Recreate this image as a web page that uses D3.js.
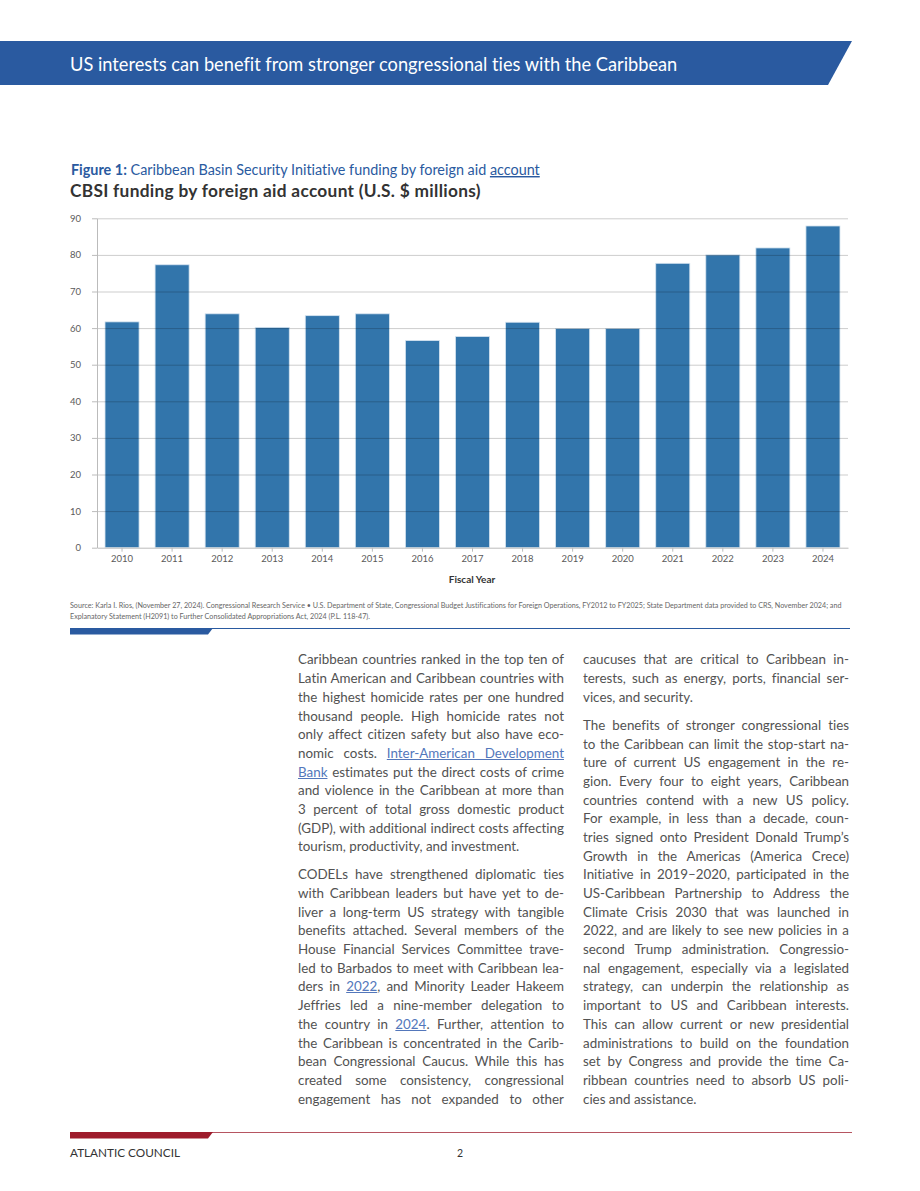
<!DOCTYPE html>
<html>
<head>
<meta charset="utf-8">
<script src="https://cdn.jsdelivr.net/npm/d3@7"></script>
<style>
    body { margin: 0; background: #fff; }
    #page { position: relative; width: 920px; height: 1191px; overflow: hidden; font-family: Lato, "Open Sans", sans-serif; font-variant-ligatures: none; }
    #page svg { position: absolute; left: 0; top: 0; }
    .col { position: absolute; width: 266px; color: #525252; }
    .col .para { margin-bottom: 9.3px; }
    .ln { white-space: nowrap; text-align: justify; text-align-last: justify; height: 18.7px; line-height: 18.7px; }
    .ln.last { text-align-last: left; }
    .col a { color: #5377bb; text-decoration: underline; text-decoration-thickness: 1px; }
</style>
</head>
<body>
<div id="page"></div>
<script>
// chart data
const years = ['2010', '2011', '2012', '2013', '2014', '2015', '2016', '2017',
    '2018', '2019', '2020', '2021', '2022', '2023', '2024'];
const funding = [61.7, 77.3, 63.9, 60.2, 63.4, 63.9, 56.6, 57.7, 61.6, 59.9, 59.9, 77.7, 80.0, 81.9, 87.9];
const yTicks = [0, 10, 20, 30, 40, 50, 60, 70, 80, 90];

const headerText = 'US interests can benefit from stronger congressional ties with the Caribbean';
const figureLabel = 'Figure 1:';
const figureText = ' Caribbean Basin Security Initiative funding by foreign aid ';
const figureLink = 'account';
const chartTitle = 'CBSI funding by foreign aid account (U.S. $ millions)';
const xTitle = 'Fiscal Year';
const sourceLines = [
    'Source: Karla I. Rios, (November 27, 2024). Congressional Research Service • U.S. Department of State, Congressional Budget Justifications for Foreign Operations, FY2012 to FY2025; State Department data provided to CRS, November 2024; and',
    'Explanatory Statement (H2091) to Further Consolidated Appropriations Act, 2024 (P.L. 118-47).'
];
const footerText = 'ATLANTIC COUNCIL';
const pageNumber = '2';

// body text, one entry per printed line, [..] = link
const column1 = [
    [
        'Caribbean countries ranked in the top ten of',
        'Latin American and Caribbean countries with',
        'the highest homicide rates per one hundred',
        'thousand people. High homicide rates not',
        'only affect citizen safety but also have eco-',
        'nomic costs. [Inter-American Development]',
        '[Bank] estimates put the direct costs of crime',
        'and violence in the Caribbean at more than',
        '3 percent of total gross domestic product',
        '(GDP), with additional indirect costs affecting',
        'tourism, productivity, and investment.'
    ],
    [
        'CODELs have strengthened diplomatic ties',
        'with Caribbean leaders but have yet to de-',
        'liver a long-term US strategy with tangible',
        'benefits attached. Several members of the',
        'House Financial Services Committee trave-',
        'led to Barbados to meet with Caribbean lea-',
        'ders in [2022], and Minority Leader Hakeem',
        'Jeffries led a nine-member delegation to',
        'the country in [2024]. Further, attention to',
        'the Caribbean is concentrated in the Carib-',
        'bean Congressional Caucus. While this has',
        'created some consistency, congressional',
        'engagement has not expanded to other'
    ]
];
const column1Continues = true;
const column2 = [
    [
        'caucuses that are critical to Caribbean in-',
        'terests, such as energy, ports, financial ser-',
        'vices, and security.'
    ],
    [
        'The benefits of stronger congressional ties',
        'to the Caribbean can limit the stop-start na-',
        'ture of current US engagement in the re-',
        'gion. Every four to eight years, Caribbean',
        'countries contend with a new US policy.',
        'For example, in less than a decade, coun-',
        'tries signed onto President Donald Trump’s',
        'Growth in the Americas (America Crece)',
        'Initiative in 2019–2020, participated in the',
        'US-Caribbean Partnership to Address the',
        'Climate Crisis 2030 that was launched in',
        '2022, and are likely to see new policies in a',
        'second Trump administration. Congressio-',
        'nal engagement, especially via a legislated',
        'strategy, can underpin the relationship as',
        'important to US and Caribbean interests.',
        'This can allow current or new presidential',
        'administrations to build on the foundation',
        'set by Congress and provide the time Ca-',
        'ribbean countries need to absorb US poli-',
        'cies and assistance.'
    ]
];

const blue = '#2a5aa0';
const page = d3.select('#page');
const svg = page.append('svg').attr('width', 920).attr('height', 1191);

// shrink/grow a text so it spans a given width
function fitWidth(sel, w) {
    const len = sel.node().getComputedTextLength();
    const fs = parseFloat(sel.attr('font-size'));
    sel.attr('font-size', fs * w / len);
    return fs * w / len;
}

// header band
svg.append('path')
    .attr('d', 'M0,41 L852,41 L828,85 L0,85 Z')
    .attr('fill', blue);
const ht = svg.append('text')
    .attr('x', 70).attr('y', 70.5)
    .attr('font-size', 17).attr('fill', '#fff')
    .text(headerText);
fitWidth(ht, 608);

// figure caption
const fig = svg.append('text')
    .attr('x', 71).attr('y', 175)
    .attr('font-size', 13).attr('fill', blue);
fig.append('tspan').attr('font-weight', 700).text(figureLabel);
fig.append('tspan').text(figureText);
fig.append('tspan').attr('text-decoration', 'underline').text(figureLink);
fitWidth(fig, 469);

const title = svg.append('text')
    .attr('x', 70).attr('y', 197)
    .attr('font-size', 15.5).attr('font-weight', 700).attr('fill', '#333')
    .attr('letter-spacing', 0.3)
    .text(chartTitle);
fitWidth(title, 413);

// chart
const x = d3.scaleBand().domain(years).range([97, 848]).paddingInner(0.32).paddingOuter(0.16);
const y = d3.scaleLinear().domain([0, 90]).range([547.7, 218.3]);

svg.append('g')
    .selectAll('rect')
    .data(years)
    .join('rect')
    .attr('x', d => x(d))
    .attr('width', x.bandwidth())
    .attr('y', (d, i) => y(funding[i]))
    .attr('height', (d, i) => y(0) - y(funding[i]))
    .attr('fill', '#1c66a2')
    .attr('fill-opacity', 0.9)
    .attr('stroke', '#d6e4f0')
    .attr('stroke-width', 0.8);

// gridlines over the bars so they show through
const grid = svg.append('g')
    .attr('transform', 'translate(97,0)')
    .call(d3.axisLeft(y).tickValues(yTicks.slice(1)).tickSize(-751).tickFormat(''));
grid.select('.domain').remove();
grid.selectAll('line').attr('stroke', '#000').attr('stroke-opacity', 0.2);

const yAxis = svg.append('g')
    .attr('transform', 'translate(97,0)')
    .call(d3.axisLeft(y).tickValues(yTicks).tickSizeInner(5).tickSizeOuter(0).tickPadding(11));
yAxis.select('.domain').attr('stroke', '#bbb');
yAxis.selectAll('line').attr('stroke', '#bbb');
yAxis.selectAll('text')
    .attr('font-family', 'Lato, sans-serif').attr('font-size', 9.5).attr('fill', '#5a5a5a');

const xAxis = svg.append('g')
    .attr('transform', 'translate(0,547.7)')
    .call(d3.axisBottom(x).tickSizeInner(4).tickSizeOuter(0).tickPadding(3.6));
xAxis.select('.domain').attr('stroke', '#bbb');
xAxis.selectAll('line').attr('stroke', '#bbb');
xAxis.selectAll('text')
    .attr('font-family', 'Lato, sans-serif').attr('font-size', 9.5).attr('fill', '#5a5a5a');

svg.append('text')
    .attr('x', 472).attr('y', 583)
    .attr('text-anchor', 'middle')
    .attr('font-size', 10).attr('font-weight', 700).attr('fill', '#333')
    .text(xTitle);

// source note
const s1 = svg.append('text')
    .attr('x', 70).attr('y', 607.5)
    .attr('font-size', 6.5).attr('fill', '#666')
    .text(sourceLines[0]);
const srcSize = fitWidth(s1, 773);
svg.append('text')
    .attr('x', 70).attr('y', 619)
    .attr('font-size', srcSize).attr('fill', '#666')
    .text(sourceLines[1]);

// blue rule
svg.append('line')
    .attr('x1', 70).attr('x2', 850).attr('y1', 628.5).attr('y2', 628.5)
    .attr('stroke', blue).attr('stroke-width', 1.2);
svg.append('path')
    .attr('d', 'M70,628 L213,628 L208,634.5 L70,634.5 Z')
    .attr('fill', blue);

// footer
const red = '#9e1c2c';
svg.append('line')
    .attr('x1', 70).attr('x2', 852).attr('y1', 1132.5).attr('y2', 1132.5)
    .attr('stroke', red).attr('stroke-width', 1).attr('stroke-opacity', 0.75);
svg.append('path')
    .attr('d', 'M70,1132 L213,1132 L208,1138.5 L70,1138.5 Z')
    .attr('fill', red);
const ft = svg.append('text')
    .attr('x', 70).attr('y', 1157)
    .attr('font-size', 10).attr('fill', '#333')
    .text(footerText);
fitWidth(ft, 110);
svg.append('text')
    .attr('x', 460).attr('y', 1157)
    .attr('text-anchor', 'middle')
    .attr('font-size', 10.5).attr('fill', '#333')
    .text(pageNumber);

// body columns: pick a font size so the widest line fits the measure
const measureCtx = document.createElement('canvas').getContext('2d');
measureCtx.font = '13px Lato';
const allLines = column1.flat().concat(column2.flat()).map(l => l.replace(/[\[\]]/g, ''));
const widest = d3.max(allLines, l => measureCtx.measureText(l).width);
const bodySize = Math.min(14, 13 * 265 / widest);
const lineH = 18.7;
const baselineOffset = (lineH - 1.2 * bodySize) / 2 + 0.987 * bodySize;

function drawColumn(paras, left, continues) {
    const col = page.append('div')
        .attr('class', 'col')
        .style('left', left + 'px')
        .style('top', (665 - baselineOffset) + 'px')
        .style('font-size', bodySize + 'px');
    paras.forEach((lines, pi) => {
        const p = col.append('div').attr('class', 'para');
        lines.forEach((line, li) => {
            const isLast = li === lines.length - 1 && !(continues && pi === paras.length - 1);
            const ln = p.append('div').attr('class', isLast ? 'ln last' : 'ln');
            line.split(/(\[[^\]]*\])/).forEach(part => {
                if (!part) return;
                if (part[0] === '[') ln.append('a').text(part.slice(1, -1));
                else ln.append('span').text(part);
            });
        });
    });
}
drawColumn(column1, 298, column1Continues);
drawColumn(column2, 583, false);
</script>
</body>
</html>
